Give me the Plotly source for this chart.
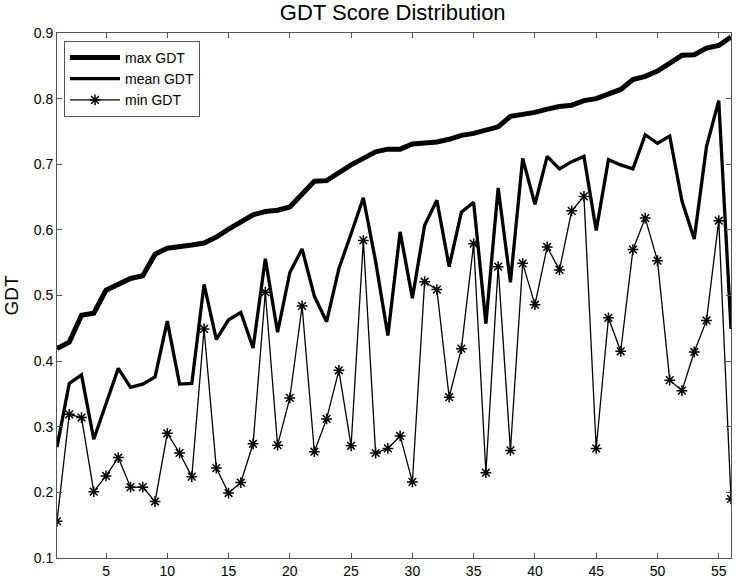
import plotly.graph_objects as go

x_vals = list(range(1, 57))

max_gdt = [0.419, 0.429, 0.470, 0.473, 0.508, 0.516, 0.526, 0.530, 0.563, 0.572,
           0.574, 0.577, 0.580, 0.589, 0.601, 0.612, 0.623, 0.628, 0.630, 0.635,
           0.654, 0.674, 0.675, 0.688, 0.699, 0.709, 0.719, 0.723, 0.723, 0.731,
           0.733, 0.734, 0.738, 0.744, 0.747, 0.752, 0.757, 0.773, 0.776, 0.779,
           0.784, 0.788, 0.790, 0.797, 0.800, 0.806, 0.814, 0.829, 0.834, 0.842,
           0.855, 0.866, 0.867, 0.877, 0.881, 0.894]

mean_gdt = [0.269, 0.366, 0.379, 0.281, 0.335, 0.389, 0.360, 0.365, 0.376, 0.461,
            0.365, 0.366, 0.517, 0.433, 0.463, 0.474, 0.420, 0.556, 0.444, 0.535,
            0.571, 0.499, 0.460, 0.541, 0.594, 0.649, 0.552, 0.439, 0.597, 0.496,
            0.607, 0.645, 0.544, 0.627, 0.642, 0.457, 0.664, 0.520, 0.709, 0.639,
            0.712, 0.693, 0.704, 0.712, 0.599, 0.707, 0.699, 0.693, 0.745, 0.732,
            0.743, 0.644, 0.586, 0.727, 0.797, 0.449]

min_gdt = [0.156, 0.319, 0.314, 0.201, 0.225, 0.253, 0.208, 0.208, 0.186, 0.290,
           0.260, 0.224, 0.449, 0.237, 0.199, 0.215, 0.274, 0.505, 0.272, 0.344,
           0.484, 0.262, 0.312, 0.386, 0.271, 0.584, 0.260, 0.267, 0.286, 0.216,
           0.521, 0.509, 0.345, 0.419, 0.579, 0.230, 0.544, 0.264, 0.549, 0.486,
           0.574, 0.539, 0.629, 0.651, 0.267, 0.466, 0.415, 0.570, 0.618, 0.553,
           0.371, 0.355, 0.414, 0.462, 0.614, 0.190]

x_ticks = [5, 10, 15, 20, 25, 30, 35, 40, 45, 50, 55]
y_ticks = [0.1, 0.2, 0.3, 0.4, 0.5, 0.6, 0.7, 0.8, 0.9]

fig = go.Figure()
fig.add_trace(go.Scatter(x=x_vals, y=max_gdt, mode="lines", name="max GDT",
                         line=dict(color="black", width=5)))
fig.add_trace(go.Scatter(x=x_vals, y=mean_gdt, mode="lines", name="mean GDT",
                         line=dict(color="black", width=3.3)))
fig.add_trace(go.Scatter(x=x_vals, y=min_gdt, mode="lines+markers", name="min GDT",
                         line=dict(color="black", width=1.3),
                         marker=dict(symbol="asterisk-open", size=9, color="black",
                                     line=dict(color="black", width=1.5))))

font_family = "Liberation Sans, Arial, sans-serif"
fig.update_layout(
    width=741, height=588,
    margin=dict(l=57, r=9, t=33, b=22),
    paper_bgcolor="white", plot_bgcolor="white",
    font=dict(family=font_family, size=14, color="black"),
    title=dict(text="GDT Score Distribution", x=0.530, xanchor="center",
               y=0.993, yanchor="top", font=dict(size=22, family=font_family)),
    showlegend=True,
    legend=dict(x=0.0104, y=0.985, xanchor="left", yanchor="top",
                bgcolor="white", bordercolor="#555", borderwidth=1,
                font=dict(size=14), tracegroupgap=0, itemwidth=50),
)
fig.update_xaxes(range=[1, 56], tickvals=x_ticks, ticks="inside", ticklen=5,
                 tickcolor="#555", showline=True, linecolor="#555", linewidth=1,
                 mirror="ticks", showgrid=False, zeroline=False,
                 tickfont=dict(size=14))
fig.update_yaxes(range=[0.1, 0.9], tickvals=y_ticks, ticks="inside", ticklen=5,
                 tickcolor="#555", showline=True, linecolor="#555", linewidth=1,
                 mirror="ticks", showgrid=False, zeroline=False,
                 tickfont=dict(size=14), tickformat=".1f",
                 title=dict(text="GDT", font=dict(size=19), standoff=10))

fig.write_html("out.html", config={"displayModeBar": False},
               post_script="document.body.style.margin='0';document.body.style.padding='0';")
